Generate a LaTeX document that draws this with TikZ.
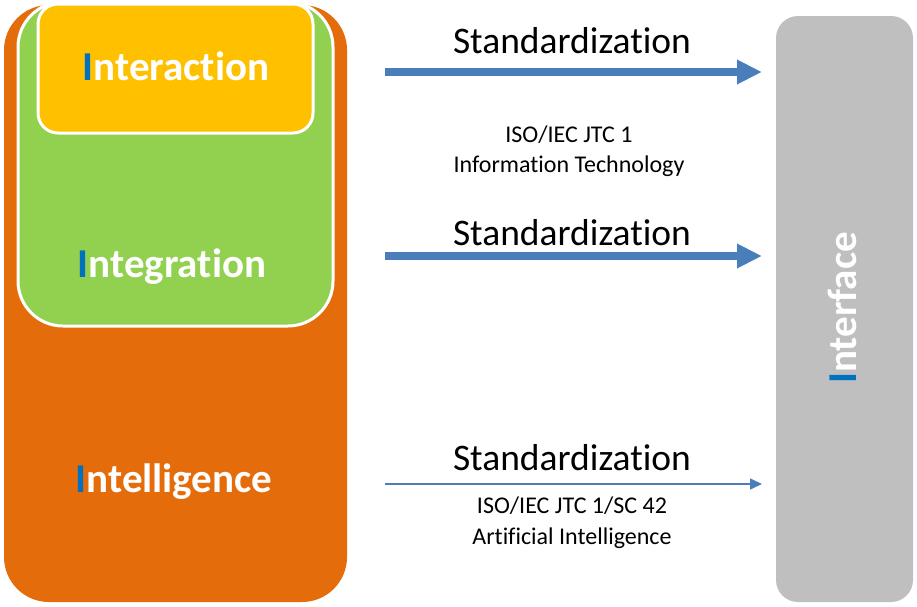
\documentclass[tikz,border=0pt]{standalone}
\usepackage{fontspec}
\setmainfont{Carlito}[Ligatures=NoCommon]
\usetikzlibrary{arrows.meta}
\definecolor{orangebox}{HTML}{E46C0A}
\definecolor{greenbox}{HTML}{92D050}
\definecolor{yellowbox}{HTML}{FFC000}
\definecolor{graybox}{HTML}{BFBFBF}
\definecolor{iblue}{HTML}{0070C0}
\definecolor{arrowblue}{HTML}{4A7EBB}
\tikzset{
  bigarrow/.style={draw=arrowblue, line width=7.5pt, -{Triangle[length=25pt,width=23pt]}},
  thinarrow/.style={draw=arrowblue, line width=1.5pt, -{Triangle[length=12pt,width=11pt]}},
  layerlabel/.style={anchor=base, text=white, font=\bfseries\fontsize{41}{49}\selectfont, inner sep=0pt},
  stdlabel/.style={anchor=base, font=\fontsize{37.5}{45}\selectfont, inner sep=0pt},
  orglabel/.style={anchor=base, font=\fontsize{24}{29}\selectfont, inner sep=0pt},
}
\newcommand{\blueI}{\textcolor{iblue}{I}}
\begin{document}
\begin{tikzpicture}[x=1pt,y=-1pt]
\useasboundingbox (0,0) rectangle (917,606);
\fill[white] (0,0) rectangle (917,606);
% boxes
\fill[orangebox, rounded corners=45pt] (4,5) rectangle (347,602);
\path[fill=greenbox, draw=white, line width=3pt, rounded corners=45pt] (18,2) rectangle (333,326);
\path[fill=yellowbox, draw=white, line width=3pt, rounded corners=20pt] (38,4) rectangle (313,133);
\fill[graybox, rounded corners=22pt] (776,16) rectangle (913,602);
% labels
\node[layerlabel] (interaction) at (176,80) {\blueI nteraction};
\node[layerlabel] (integration) at (172,277) {\blueI ntegration};
\node[layerlabel] (intelligence) at (174,492) {\blueI ntelligence};
\node[layerlabel, rotate=90] (interface) at (856,308) {\blueI nterface};
% arrows
\coordinate (a1s) at (385,72);  \coordinate (a1e) at (762,72);
\coordinate (a2s) at (385,256); \coordinate (a2e) at (762,256);
\coordinate (a3s) at (385,484); \coordinate (a3e) at (762,484);
\draw[bigarrow] (a1s) -- (a1e);
\draw[bigarrow] (a2s) -- (a2e);
\draw[thinarrow] (a3s) -- (a3e);
% texts
\node[stdlabel] (std1) at (572,53) {Standardization};
\node[stdlabel] (std2) at (572,245) {Standardization};
\node[stdlabel] (std3) at (572,470) {Standardization};
\node[orglabel] (org1a) at (569,142) {ISO/IEC JTC 1};
\node[orglabel] (org1b) at (569,172) {Information Technology};
\node[orglabel] (org2a) at (572,513) {ISO/IEC JTC 1/SC 42};
\node[orglabel] (org2b) at (572,544) {Artificial Intelligence};
\end{tikzpicture}
\end{document}
